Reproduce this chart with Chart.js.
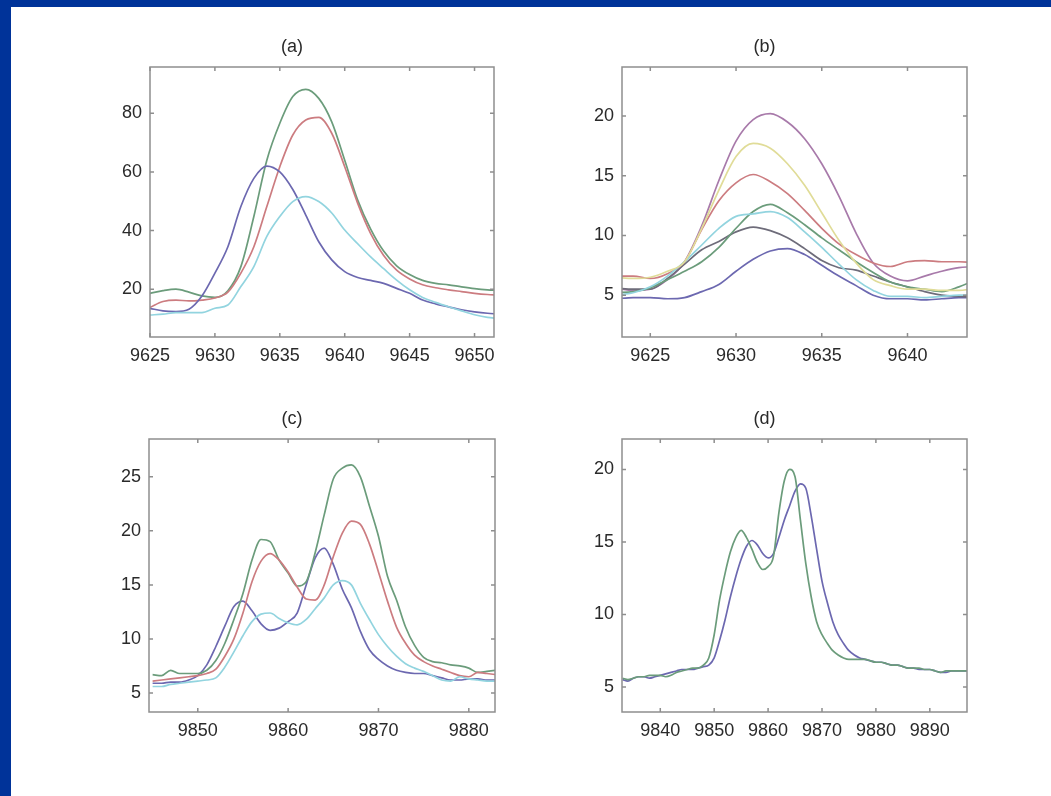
<!DOCTYPE html>
<html>
<head>
<meta charset="utf-8">
<title>Spectra</title>
<script src="https://cdn.jsdelivr.net/npm/chart.js"></script>
<style>
  html, body { margin: 0; padding: 0; }
  body {
    width: 1051px;
    height: 796px;
    background: #ffffff;
    position: relative;
    overflow: hidden;
  }
  .frame-left { position: absolute; left: 0; top: 0; width: 11px; height: 796px; background: #003399; }
  .frame-top { position: absolute; left: 0; top: 0; width: 1051px; height: 7px; background: #003399; }
  canvas { position: absolute; }
</style>
</head>
<body>
<div class="frame-left"></div>
<div class="frame-top"></div>
<canvas id="chart-a"></canvas>
<canvas id="chart-b"></canvas>
<canvas id="chart-c"></canvas>
<canvas id="chart-d"></canvas>
<script>
// ---- panel (a) ----
const xA = [9625, 9626, 9627, 9628, 9629, 9630, 9631, 9632, 9633, 9634, 9635, 9636, 9637, 9638,
  9639, 9640, 9641, 9642, 9643, 9644, 9645, 9646, 9647, 9648, 9649, 9650, 9651, 9652];
const aBlue = [13.5, 12.6, 12.4, 13.2, 17.7, 25.5, 34.5, 48.2, 57.8, 62.0, 60.0, 54.0, 45.3, 36.2,
  30.0, 26.0, 24.0, 23.0, 22.0, 20.3, 18.6, 16.3, 15.0, 14.0, 13.0, 12.3, 11.8, 11.5];
const aGreen = [18.6, 19.5, 20.0, 19.0, 17.7, 17.2, 19.5, 27.7, 44.8, 64.0, 76.6, 85.7, 88.2, 85.1,
  77.1, 64.0, 50.4, 40.5, 33.0, 28.0, 25.0, 23.0, 22.0, 21.5, 20.8, 20.2, 19.8, 19.6];
const aRed = [13.8, 15.8, 16.3, 16.0, 16.3, 17.0, 19.0, 25.5, 34.5, 48.2, 61.8, 72.6, 77.7, 78.6,
  73.2, 61.8, 49.3, 39.0, 31.5, 26.5, 23.5, 21.5, 20.5, 19.8, 19.2, 18.6, 18.2, 18.0];
const aCyan = [11.2, 11.5, 12.0, 12.0, 12.0, 13.5, 14.6, 20.9, 27.7, 38.0, 44.8, 49.9, 51.6, 49.9,
  46.0, 40.2, 35.5, 31.0, 27.0, 23.1, 19.8, 17.2, 15.5, 14.0, 12.6, 11.3, 10.4, 10.0];
const aTicksX = [9625, 9630, 9635, 9640, 9645, 9650];
const aTicksY = [20, 40, 60, 80];

// ---- panel (b) ----
const xB = [9623, 9624, 9625, 9626, 9627, 9628, 9629, 9630, 9631, 9632, 9633, 9634, 9635, 9636,
  9637, 9638, 9639, 9640, 9641, 9642, 9643, 9644];
const bMagenta = [5.6, 5.4, 5.5, 6.3, 7.8, 10.8, 14.6, 17.9, 19.7, 20.2, 19.5, 18.1, 16.0, 13.3,
  10.2, 7.7, 6.6, 6.2, 6.6, 7.0, 7.3, 7.4];
const bYellow = [6.5, 6.4, 6.5, 7.0, 7.8, 10.6, 13.8, 16.6, 17.7, 17.3, 16.0, 14.2, 11.9, 9.6,
  7.7, 6.3, 5.8, 5.5, 5.5, 5.4, 5.4, 5.6];
const bRed = [6.6, 6.6, 6.4, 6.8, 7.8, 10.5, 12.9, 14.4, 15.1, 14.5, 13.5, 12.1, 10.6, 9.3,
  8.4, 7.7, 7.4, 7.8, 7.9, 7.8, 7.8, 7.7];
const bGreen = [5.2, 5.3, 5.6, 6.3, 7.0, 7.8, 9.0, 10.6, 12.0, 12.6, 11.9, 10.9, 9.8, 8.8,
  7.8, 6.9, 6.1, 5.7, 5.5, 5.3, 5.7, 6.3];
const bCyan = [5.0, 5.2, 5.7, 6.6, 7.8, 9.2, 10.6, 11.6, 11.8, 12.0, 11.5, 10.3, 9.0, 7.6,
  6.3, 5.4, 4.9, 4.9, 4.8, 4.9, 5.0, 5.0];
const bBlack = [5.6, 5.5, 5.5, 6.4, 7.6, 8.8, 9.5, 10.3, 10.7, 10.4, 9.8, 8.9, 7.9, 7.3,
  7.1, 6.6, 6.1, 5.7, 5.3, 5.0, 4.9, 4.8];
const bBlue = [4.7, 4.8, 4.8, 4.7, 4.8, 5.3, 5.9, 7.0, 8.0, 8.7, 8.9, 8.4, 7.5, 6.6,
  5.8, 5.0, 4.7, 4.7, 4.6, 4.7, 4.8, 4.8];
const bTicksX = [9625, 9630, 9635, 9640];
const bTicksY = [5, 10, 15, 20];

// ---- panel (c) ----
const xC = [9845, 9846, 9847, 9848, 9849, 9850, 9851, 9852, 9853, 9854, 9855, 9856, 9857, 9858,
  9859, 9860, 9861, 9862, 9863, 9864, 9865, 9866, 9867, 9868, 9869, 9870, 9871, 9872, 9873,
  9874, 9875, 9876, 9877, 9878, 9879, 9880, 9881, 9882, 9883];
const cGreen = [6.7, 6.6, 7.1, 6.8, 6.8, 6.8, 7.1, 8.0, 9.6, 11.8, 14.2, 17.3, 19.2, 19.0,
  17.3, 16.1, 14.9, 15.3, 18.0, 21.5, 24.8, 25.8, 26.1, 25.0, 22.3, 19.5, 15.8, 13.6, 11.1,
  9.4, 8.3, 7.9, 7.8, 7.6, 7.5, 7.3, 6.9, 7.0, 7.1];
const cRed = [6.1, 6.2, 6.3, 6.4, 6.5, 6.6, 6.8, 7.2, 8.4, 10.0, 12.4, 15.3, 17.2, 17.9,
  17.3, 16.2, 14.8, 13.7, 13.6, 15.0, 17.6, 19.8, 20.9, 20.6, 18.8, 16.2, 13.5, 11.1, 9.6,
  8.5, 7.9, 7.5, 7.2, 6.9, 6.6, 6.5, 6.9, 6.8, 6.7];
const cBlue = [5.9, 5.9, 6.0, 6.0, 6.2, 6.6, 7.6, 9.3, 11.2, 13.0, 13.5, 12.6, 11.4, 10.8,
  11.0, 11.6, 12.4, 15.0, 17.5, 18.4, 16.9, 14.6, 12.9, 10.7, 9.0, 8.1, 7.5, 7.1, 6.9,
  6.8, 6.8, 6.6, 6.4, 6.2, 6.2, 6.3, 6.3, 6.2, 6.2];
const cCyan = [5.6, 5.6, 5.8, 5.9, 6.0, 6.1, 6.2, 6.4, 7.4, 8.8, 10.3, 11.6, 12.3, 12.4,
  11.9, 11.5, 11.3, 11.8, 12.8, 13.8, 15.0, 15.4, 15.0, 13.3, 11.8, 10.4, 9.3, 8.4, 7.7,
  7.3, 7.0, 6.6, 6.2, 6.1, 6.5, 6.3, 6.2, 6.1, 6.1];
const cTicksX = [9850, 9860, 9870, 9880];
const cTicksY = [5, 10, 15, 20, 25];

// ---- panel (d) ----
const xD = [9833, 9834, 9835, 9836, 9837, 9838, 9839, 9840, 9841, 9842, 9843, 9844, 9845, 9846,
  9847, 9848, 9849, 9850, 9851, 9852, 9853, 9854, 9855, 9856, 9857, 9858, 9859, 9860, 9861,
  9862, 9863, 9864, 9865, 9866, 9867, 9868, 9869, 9870, 9871, 9872, 9873, 9874, 9875, 9876,
  9877, 9878, 9879, 9880, 9881, 9882, 9883, 9884, 9885, 9886, 9887, 9888, 9889, 9890, 9891,
  9892, 9893, 9894, 9895, 9896, 9897];
const dGreen = [5.6, 5.5, 5.6, 5.7, 5.7, 5.8, 5.8, 5.8, 5.7, 5.8, 6.0, 6.1, 6.2, 6.3,
  6.3, 6.5, 7.0, 8.6, 11.0, 12.8, 14.3, 15.3, 15.8, 15.3, 14.5, 13.6, 13.1, 13.3, 14.0,
  17.0, 19.2, 20.0, 19.5, 16.5, 13.5, 11.2, 9.5, 8.6, 8.0, 7.5, 7.2, 7.0, 6.9, 6.9,
  6.9, 6.9, 6.8, 6.7, 6.7, 6.6, 6.5, 6.5, 6.4, 6.3, 6.3, 6.3, 6.2, 6.2, 6.1,
  6.0, 6.1, 6.1, 6.1, 6.1, 6.1];
const dBlue = [5.5, 5.4, 5.6, 5.7, 5.7, 5.6, 5.7, 5.8, 5.9, 6.0, 6.1, 6.2, 6.2, 6.2,
  6.3, 6.4, 6.5, 7.0, 8.2, 9.6, 11.2, 12.6, 13.8, 14.7, 15.1, 14.8, 14.2, 13.9, 14.2,
  15.3, 16.5, 17.5, 18.5, 19.0, 18.7, 16.8, 14.5, 12.3, 10.8, 9.5, 8.6, 8.0, 7.5, 7.2,
  7.0, 6.9, 6.8, 6.7, 6.7, 6.6, 6.5, 6.5, 6.4, 6.3, 6.3, 6.2, 6.2, 6.2, 6.1,
  6.0, 6.0, 6.1, 6.1, 6.1, 6.1];
const dTicksX = [9840, 9850, 9860, 9870, 9880, 9890];
const dTicksY = [5, 10, 15, 20];

// faded MATLAB line colours
const COLORS = {
  blue: '#6c68b0',
  green: '#6b9c7b',
  red: '#cc7c80',
  cyan: '#92d4df',
  magenta: '#a87aaa',
  yellow: '#e0dc98',
  black: '#6e6c7a'
};

const FONT = "'Liberation Sans', Arial, Helvetica, sans-serif";
const AXIS_W = 60;   // room for y labels
const TITLE_H = 40;  // room for panel title
const XLAB_H = 40;   // room for x labels

// box with inward ticks on all four sides, like MATLAB axes
const boxPlugin = {
  id: 'matlabBox',
  afterDraw(chart) {
    const { ctx, chartArea: a, scales } = chart;
    const len = 4;
    ctx.save();
    ctx.strokeStyle = '#8e8e8e';
    ctx.lineWidth = 1.5;
    ctx.beginPath();
    scales.x.ticks.forEach(t => {
      const px = scales.x.getPixelForValue(t.value);
      ctx.moveTo(px, a.bottom); ctx.lineTo(px, a.bottom - len);
      ctx.moveTo(px, a.top); ctx.lineTo(px, a.top + len);
    });
    scales.y.ticks.forEach(t => {
      const py = scales.y.getPixelForValue(t.value);
      ctx.moveTo(a.left, py); ctx.lineTo(a.left + len, py);
      ctx.moveTo(a.right, py); ctx.lineTo(a.right - len, py);
    });
    ctx.stroke();
    ctx.strokeRect(a.left, a.top, a.right - a.left, a.bottom - a.top);
    ctx.restore();
  }
};

function series(xs, ys, color) {
  return {
    data: xs.map((x, i) => ({ x: x, y: ys[i] })),
    borderColor: color,
    borderWidth: 1.7,
    pointRadius: 0,
    cubicInterpolationMode: 'monotone',
    fill: false
  };
}

function fixedTicks(list) {
  return function(scale) {
    scale.ticks = list.map(v => ({ value: v }));
  };
}

function makePanel(id, box, title, xRange, yRange, xTicks, yTicks, datasets) {
  const canvas = document.getElementById(id);
  const w = AXIS_W * 2 + box.w;
  const h = TITLE_H + box.h + XLAB_H;
  canvas.width = w;
  canvas.height = h;
  canvas.style.left = (box.left - AXIS_W) + 'px';
  canvas.style.top = (box.top - TITLE_H) + 'px';
  canvas.style.width = w + 'px';
  canvas.style.height = h + 'px';

  new Chart(canvas, {
    type: 'line',
    data: { datasets: datasets },
    options: {
      responsive: false,
      animation: false,
      devicePixelRatio: 1,
      layout: { padding: { left: 0, right: AXIS_W, top: 0, bottom: 0 } },
      plugins: {
        legend: { display: false },
        tooltip: { enabled: false },
        title: {
          display: true,
          text: title,
          color: '#2a2a2a',
          font: { family: FONT, size: 18, weight: 'normal', lineHeight: 1.2 },
          padding: { top: 9, bottom: TITLE_H - 9 - 21.6 }
        }
      },
      scales: {
        x: {
          type: 'linear',
          min: xRange[0],
          max: xRange[1],
          afterBuildTicks: fixedTicks(xTicks),
          afterFit(scale) { scale.height = XLAB_H; },
          grid: { display: false, drawTicks: false },
          border: { display: false },
          ticks: {
            color: '#2a2a2a',
            padding: 8,
            maxRotation: 0,
            autoSkip: false,
            font: { family: FONT, size: 18 },
            callback: v => String(v)
          }
        },
        y: {
          type: 'linear',
          min: yRange[0],
          max: yRange[1],
          afterBuildTicks: fixedTicks(yTicks),
          afterFit(scale) { scale.width = AXIS_W; },
          grid: { display: false, drawTicks: false },
          border: { display: false },
          ticks: {
            color: '#2a2a2a',
            padding: 8,
            autoSkip: false,
            font: { family: FONT, size: 18 },
            callback: v => String(v)
          }
        }
      }
    },
    plugins: [boxPlugin]
  });
}

makePanel('chart-a', { left: 150, top: 67, w: 344, h: 270 }, '(a)',
  [9625, 9651.5], [3.7, 95.8], aTicksX, aTicksY, [
    series(xA, aCyan, COLORS.cyan),
    series(xA, aBlue, COLORS.blue),
    series(xA, aRed, COLORS.red),
    series(xA, aGreen, COLORS.green)
  ]);

makePanel('chart-b', { left: 622, top: 67, w: 345, h: 270 }, '(b)',
  [9623.35, 9643.47], [1.5, 24.1], bTicksX, bTicksY, [
    series(xB, bYellow, COLORS.yellow),
    series(xB, bCyan, COLORS.cyan),
    series(xB, bGreen, COLORS.green),
    series(xB, bRed, COLORS.red),
    series(xB, bBlack, COLORS.black),
    series(xB, bBlue, COLORS.blue),
    series(xB, bMagenta, COLORS.magenta)
  ]);

makePanel('chart-c', { left: 149, top: 439, w: 346, h: 273 }, '(c)',
  [9844.6, 9882.9], [3.24, 28.5], cTicksX, cTicksY, [
    series(xC, cCyan, COLORS.cyan),
    series(xC, cRed, COLORS.red),
    series(xC, cGreen, COLORS.green),
    series(xC, cBlue, COLORS.blue)
  ]);

makePanel('chart-d', { left: 622, top: 439, w: 345, h: 273 }, '(d)',
  [9832.9, 9896.9], [3.27, 22.1], dTicksX, dTicksY, [
    series(xD, dGreen, COLORS.green),
    series(xD, dBlue, COLORS.blue)
  ]);
</script>
</body>
</html>
